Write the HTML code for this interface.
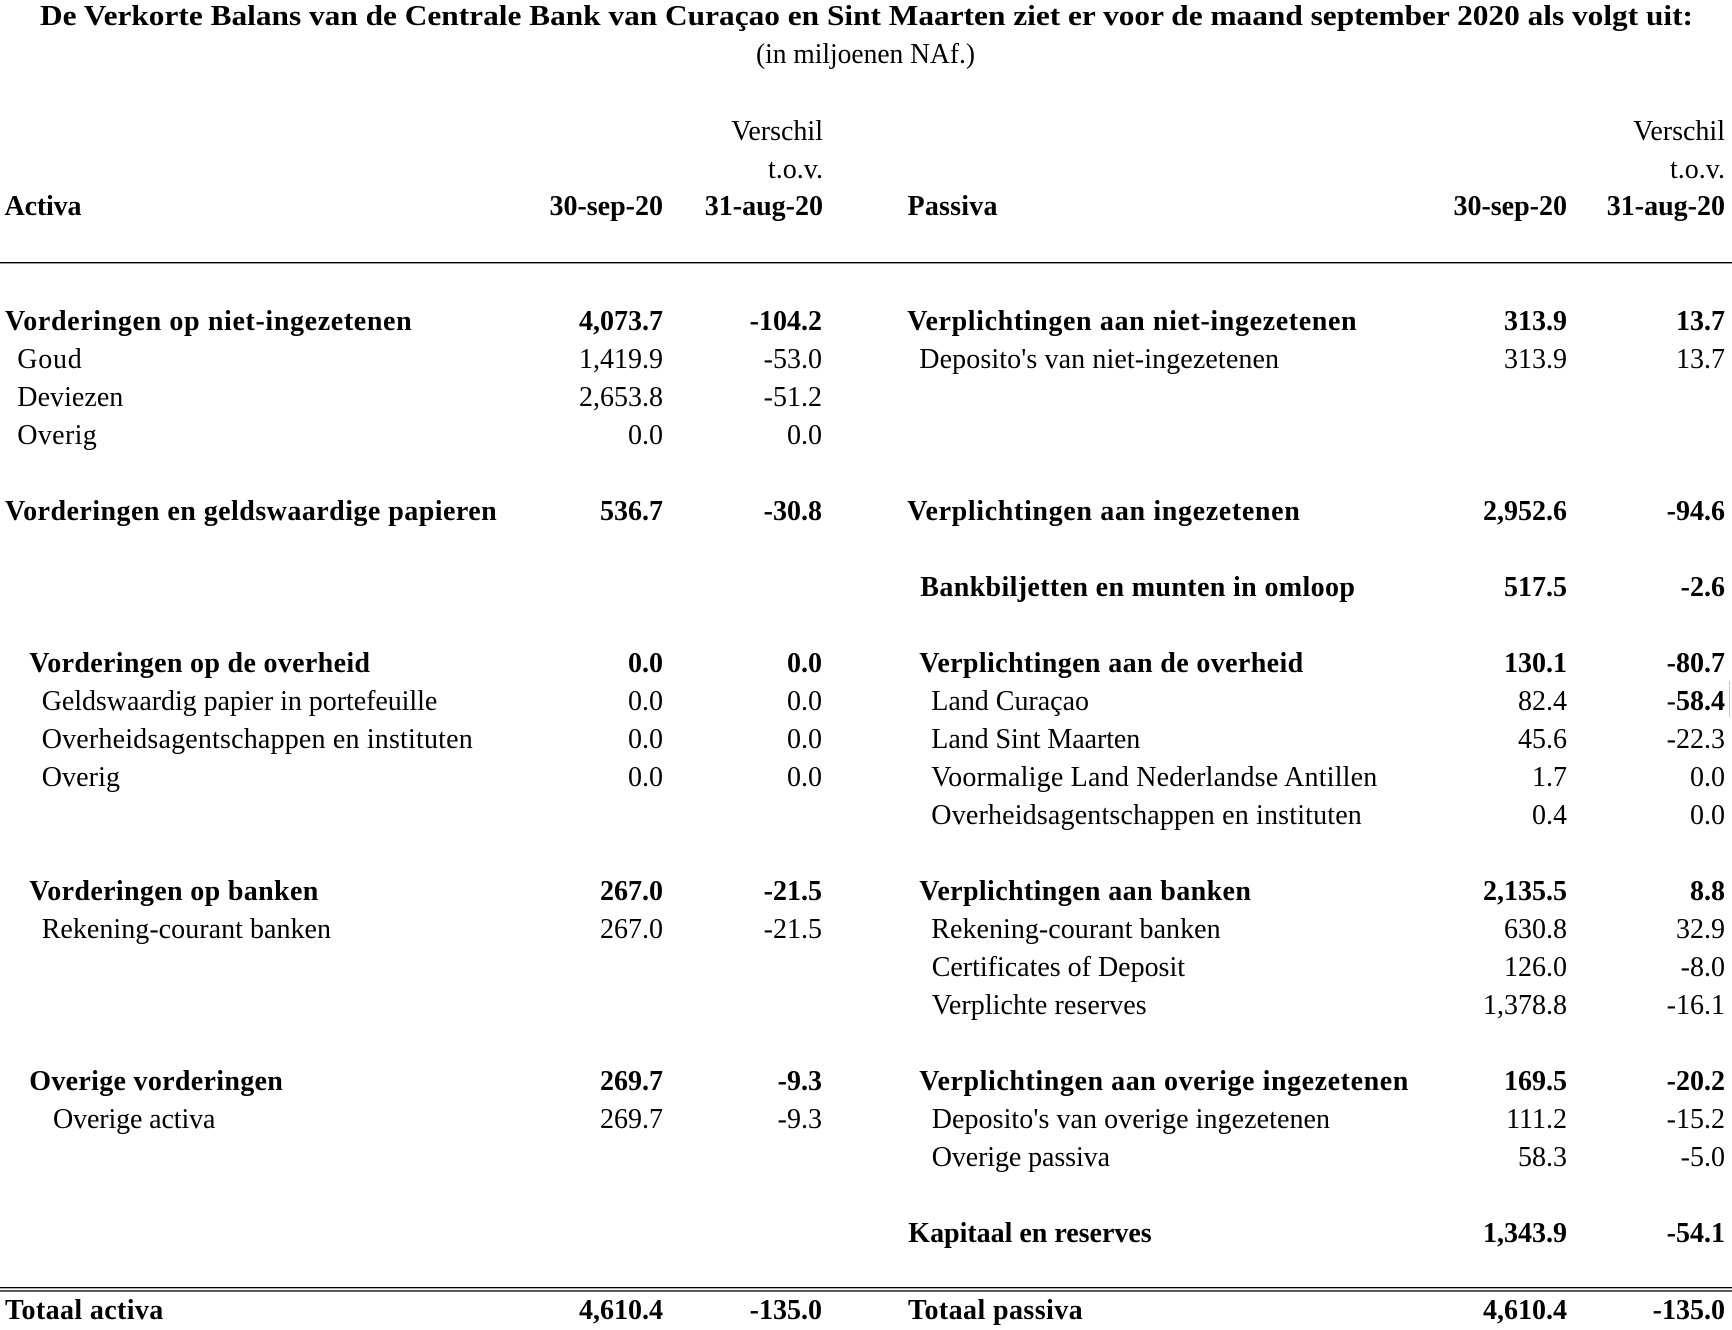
<!DOCTYPE html>
<html>
<head>
<meta charset="utf-8">
<style>
  html, body { margin: 0; padding: 0; background: #ffffff; }
  body { width: 1732px; height: 1330px; overflow: hidden; }
  svg { display: block; }
  text { font-family: "Liberation Serif", "DejaVu Serif", serif; font-size: 28px; fill: #000; }
  .b { font-weight: bold; }
  .r { text-anchor: end; }
</style>
</head>
<body>
<svg width="1732" height="1330" viewBox="0 0 1732 1330" xmlns="http://www.w3.org/2000/svg">
  <rect x="0" y="0" width="1732" height="1330" fill="#ffffff"/>

  <!-- Title -->
  <text class="b" x="40" y="25" textLength="1653" lengthAdjust="spacingAndGlyphs">De Verkorte Balans van de Centrale Bank van Curaçao en Sint Maarten ziet er voor de maand september 2020 als volgt uit:</text>
  <text x="756" y="63" textLength="219" lengthAdjust="spacingAndGlyphs">(in miljoenen NAf.)</text>

  <!-- Header -->
  <text class="r" x="823" y="140">Verschil</text>
  <text class="r" x="823" y="178">t.o.v.</text>
  <text class="b" x="4.5" y="215" textLength="77" lengthAdjust="spacing">Activa</text>
  <text class="b r" x="663" y="215">30-sep-20</text>
  <text class="b r" x="823" y="215">31-aug-20</text>

  <text class="r" x="1725" y="140">Verschil</text>
  <text class="r" x="1725" y="178">t.o.v.</text>
  <text class="b" x="907.5" y="215" textLength="90" lengthAdjust="spacing">Passiva</text>
  <text class="b r" x="1567" y="215">30-sep-20</text>
  <text class="b r" x="1725" y="215">31-aug-20</text>

  <!-- Top rule -->
  <rect x="0" y="262" width="1732" height="1.4" fill="#000"/>

  <!-- ===== LEFT (Activa) ===== -->
  <!-- k=0 y=330 -->
  <text class="b" x="5" y="330" textLength="406.7" lengthAdjust="spacing">Vorderingen op niet-ingezetenen</text>
  <text class="b r" x="663" y="330">4,073.7</text>
  <text class="b r" x="822" y="330">-104.2</text>
  <!-- k=1 y=368 -->
  <text x="17.3" y="368" textLength="64.4" lengthAdjust="spacing">Goud</text>
  <text class="r" x="663" y="368">1,419.9</text>
  <text class="r" x="822" y="368">-53.0</text>
  <!-- k=2 y=406 -->
  <text x="17.3" y="406" textLength="106" lengthAdjust="spacing">Deviezen</text>
  <text class="r" x="663" y="406">2,653.8</text>
  <text class="r" x="822" y="406">-51.2</text>
  <!-- k=3 y=444 -->
  <text x="17.3" y="444" textLength="79.4" lengthAdjust="spacing">Overig</text>
  <text class="r" x="663" y="444">0.0</text>
  <text class="r" x="822" y="444">0.0</text>
  <!-- k=5 y=520 -->
  <text class="b" x="5" y="520" textLength="491.7" lengthAdjust="spacing">Vorderingen en geldswaardige papieren</text>
  <text class="b r" x="663" y="520">536.7</text>
  <text class="b r" x="822" y="520">-30.8</text>
  <!-- k=9 y=672 -->
  <text class="b" x="29.3" y="672" textLength="340.7" lengthAdjust="spacing">Vorderingen op de overheid</text>
  <text class="b r" x="663" y="672">0.0</text>
  <text class="b r" x="822" y="672">0.0</text>
  <!-- k=10 y=710 -->
  <text x="41.7" y="710" textLength="395.6" lengthAdjust="spacing">Geldswaardig papier in portefeuille</text>
  <text class="r" x="663" y="710">0.0</text>
  <text class="r" x="822" y="710">0.0</text>
  <!-- k=11 y=748 -->
  <text x="41.7" y="748" textLength="431" lengthAdjust="spacing">Overheidsagentschappen en instituten</text>
  <text class="r" x="663" y="748">0.0</text>
  <text class="r" x="822" y="748">0.0</text>
  <!-- k=12 y=786 -->
  <text x="41.7" y="786" textLength="78.3" lengthAdjust="spacing">Overig</text>
  <text class="r" x="663" y="786">0.0</text>
  <text class="r" x="822" y="786">0.0</text>
  <!-- k=15 y=900 -->
  <text class="b" x="29.3" y="900" textLength="289" lengthAdjust="spacing">Vorderingen op banken</text>
  <text class="b r" x="663" y="900">267.0</text>
  <text class="b r" x="822" y="900">-21.5</text>
  <!-- k=16 y=938 -->
  <text x="41.7" y="938" textLength="289.3" lengthAdjust="spacing">Rekening-courant banken</text>
  <text class="r" x="663" y="938">267.0</text>
  <text class="r" x="822" y="938">-21.5</text>
  <!-- k=20 y=1090 -->
  <text class="b" x="29.3" y="1090" textLength="253.5" lengthAdjust="spacing">Overige vorderingen</text>
  <text class="b r" x="663" y="1090">269.7</text>
  <text class="b r" x="822" y="1090">-9.3</text>
  <!-- k=21 y=1128 -->
  <text x="53" y="1128" textLength="162.4" lengthAdjust="spacing">Overige activa</text>
  <text class="r" x="663" y="1128">269.7</text>
  <text class="r" x="822" y="1128">-9.3</text>

  <!-- ===== RIGHT (Passiva) ===== -->
  <!-- k=0 -->
  <text class="b" x="907.2" y="330" textLength="449.4" lengthAdjust="spacing">Verplichtingen aan niet-ingezetenen</text>
  <text class="b r" x="1567" y="330">313.9</text>
  <text class="b r" x="1725" y="330">13.7</text>
  <!-- k=1 -->
  <text x="919.3" y="368" textLength="359.7" lengthAdjust="spacing">Deposito's van niet-ingezetenen</text>
  <text class="r" x="1567" y="368">313.9</text>
  <text class="r" x="1725" y="368">13.7</text>
  <!-- k=5 -->
  <text class="b" x="907.2" y="520" textLength="392.6" lengthAdjust="spacing">Verplichtingen aan ingezetenen</text>
  <text class="b r" x="1567" y="520">2,952.6</text>
  <text class="b r" x="1725" y="520">-94.6</text>
  <!-- k=7 -->
  <text class="b" x="920.3" y="596" textLength="434.6" lengthAdjust="spacing">Bankbiljetten en munten in omloop</text>
  <text class="b r" x="1567" y="596">517.5</text>
  <text class="b r" x="1725" y="596">-2.6</text>
  <!-- k=9 -->
  <text class="b" x="919.3" y="672" textLength="383.9" lengthAdjust="spacing">Verplichtingen aan de overheid</text>
  <text class="b r" x="1567" y="672">130.1</text>
  <text class="b r" x="1725" y="672">-80.7</text>
  <!-- k=10 -->
  <text x="931.3" y="710" textLength="157.7" lengthAdjust="spacing">Land Curaçao</text>
  <text class="r" x="1567" y="710">82.4</text>
  <text class="r" x="1725" y="710">-<tspan class="b">58.4</tspan></text>
  <rect x="1729" y="681" width="1" height="36" fill="#c8c8c8"/>
  <!-- k=11 -->
  <text x="931.3" y="748" textLength="209" lengthAdjust="spacing">Land Sint Maarten</text>
  <text class="r" x="1567" y="748">45.6</text>
  <text class="r" x="1725" y="748">-22.3</text>
  <!-- k=12 -->
  <text x="931.3" y="786" textLength="446" lengthAdjust="spacing">Voormalige Land Nederlandse Antillen</text>
  <text class="r" x="1567" y="786">1.7</text>
  <text class="r" x="1725" y="786">0.0</text>
  <!-- k=13 -->
  <text x="931.3" y="824" textLength="430.5" lengthAdjust="spacing">Overheidsagentschappen en instituten</text>
  <text class="r" x="1567" y="824">0.4</text>
  <text class="r" x="1725" y="824">0.0</text>
  <!-- k=15 -->
  <text class="b" x="919.3" y="900" textLength="331.6" lengthAdjust="spacing">Verplichtingen aan banken</text>
  <text class="b r" x="1567" y="900">2,135.5</text>
  <text class="b r" x="1725" y="900">8.8</text>
  <!-- k=16 -->
  <text x="931.3" y="938" textLength="289.3" lengthAdjust="spacing">Rekening-courant banken</text>
  <text class="r" x="1567" y="938">630.8</text>
  <text class="r" x="1725" y="938">32.9</text>
  <!-- k=17 -->
  <text x="931.7" y="976" textLength="253.3" lengthAdjust="spacing">Certificates of Deposit</text>
  <text class="r" x="1567" y="976">126.0</text>
  <text class="r" x="1725" y="976">-8.0</text>
  <!-- k=18 -->
  <text x="931.7" y="1014" textLength="215" lengthAdjust="spacing">Verplichte reserves</text>
  <text class="r" x="1567" y="1014">1,378.8</text>
  <text class="r" x="1725" y="1014">-16.1</text>
  <!-- k=20 -->
  <text class="b" x="919.3" y="1090" textLength="489" lengthAdjust="spacing">Verplichtingen aan overige ingezetenen</text>
  <text class="b r" x="1567" y="1090">169.5</text>
  <text class="b r" x="1725" y="1090">-20.2</text>
  <!-- k=21 -->
  <text x="931.7" y="1128" textLength="398.3" lengthAdjust="spacing">Deposito's van overige ingezetenen</text>
  <text class="r" x="1567" y="1128">111.2</text>
  <text class="r" x="1725" y="1128">-15.2</text>
  <!-- k=22 -->
  <text x="931.7" y="1166" textLength="178.3" lengthAdjust="spacing">Overige passiva</text>
  <text class="r" x="1567" y="1166">58.3</text>
  <text class="r" x="1725" y="1166">-5.0</text>
  <!-- k=24 -->
  <text class="b" x="908.3" y="1242" textLength="243.4" lengthAdjust="spacing">Kapitaal en reserves</text>
  <text class="b r" x="1567" y="1242">1,343.9</text>
  <text class="b r" x="1725" y="1242">-54.1</text>

  <!-- Double rule -->
  <rect x="0" y="1287" width="1732" height="1.3" fill="#000"/>
  <rect x="0" y="1290.3" width="1732" height="1.3" fill="#000"/>

  <!-- Totals k=26 y=1318 -->
  <text class="b" x="5" y="1319" textLength="158.3" lengthAdjust="spacing">Totaal activa</text>
  <text class="b r" x="663" y="1319">4,610.4</text>
  <text class="b r" x="822" y="1319">-135.0</text>
  <text class="b" x="908" y="1319" textLength="174.6" lengthAdjust="spacing">Totaal passiva</text>
  <text class="b r" x="1567" y="1319">4,610.4</text>
  <text class="b r" x="1725" y="1319">-135.0</text>
</svg>
</body>
</html>
